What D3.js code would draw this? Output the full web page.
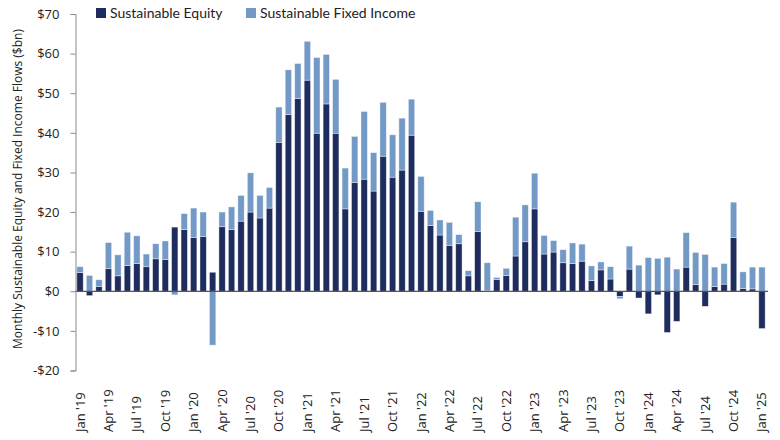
<!DOCTYPE html>
<html>
<head>
<meta charset="utf-8">
<script src="https://cdn.jsdelivr.net/npm/d3@7"></script>
<style>
  body { margin: 0; background: #fff; }
  .axis text { font-family: "Open Sans", sans-serif; fill: #222; }
  .legend text { font-family: Lato, sans-serif; fill: #222; }
</style>
</head>
<body>
<div class="flows_chart"></div>
<script>
// monthly flows, $bn, Jan '19 .. Jan '25
const months = d3.range(73).map((i) => new Date(2019, i, 1));
const equity = [
  4.7, -1.1, 1.2, 5.7, 3.9, 6.5, 7.0, 6.2, 8.2, 8.0, 16.2, 15.6,
  13.6, 13.8, 4.8, 16.3, 15.6, 17.7, 20.0, 18.5, 21.0, 37.6, 44.6, 48.7,
  53.3, 39.9, 47.3, 39.9, 20.8, 27.5, 28.3, 25.3, 34.1, 28.8, 30.6, 39.4,
  20.2, 16.6, 14.2, 11.6, 12.0, 3.9, 15.1, 0.2, 3.0, 4.0, 8.9, 12.5,
  20.8, 9.4, 9.9, 7.2, 7.0, 7.6, 2.7, 5.4, 3.1, -1.3, 5.6, -1.7,
  -5.7, -0.9, -10.4, -7.6, 6.1, 1.7, -3.8, 1.2, 1.8, 13.6, 0.7, 0.6,
  -9.4
];
const fixedIncome = [
  1.5, 4.0, 1.7, 6.6, 5.3, 8.4, 7.0, 3.2, 3.8, 4.7, -0.9, 4.0,
  7.4, 6.2, -13.6, 3.7, 5.7, 6.5, 9.9, 5.7, 5.2, 8.9, 11.3, 8.8,
  9.8, 19.1, 12.5, 13.6, 10.3, 11.6, 17.1, 9.7, 13.6, 10.7, 13.1, 9.1,
  8.8, 3.8, 3.8, 5.8, 2.3, 1.3, 7.5, 7.0, 0.5, 1.8, 9.8, 9.3,
  9.0, 4.7, 2.9, 3.3, 5.2, 4.3, 3.7, 2.0, 3.1, -0.6, 5.8, 6.6,
  8.5, 8.3, 8.6, 5.6, 8.7, 8.1, 9.3, 4.9, 5.2, 8.9, 4.2, 5.5,
  6.1
];
const seriesNames = ["Sustainable Equity", "Sustainable Fixed Income"];
const colors = ["#1f2d5e", "#7399c7"];
const yTicks = [-20, -10, 0, 10, 20, 30, 40, 50, 60, 70];

const W = 780, H = 440;
const svg = d3.select(".flows_chart").append("svg")
  .attr("width", W).attr("height", H);

const rows = months.map((m, i) => ({ month: m, eq: equity[i], fi: fixedIncome[i] }));

const x = d3.scaleBand()
  .domain(months)
  .range([75.3, 766.7])
  .paddingInner(0.33)
  .paddingOuter(0.165);

const y = d3.scaleLinear().domain([-20, 70]).range([370.5, 14]);

const stack = d3.stack().keys(["eq", "fi"]).offset(d3.stackOffsetDiverging);
const layers = stack(rows);

// bars
svg.append("g")
  .selectAll("g")
  .data(layers)
  .join("g")
  .attr("fill", (d, i) => colors[i])
  .selectAll("rect")
  .data((d) => d)
  .join("rect")
  .attr("x", (d) => x(d.data.month))
  .attr("width", x.bandwidth())
  .attr("y", (d) => y(Math.max(d[0], d[1])))
  .attr("height", (d) => Math.abs(y(d[0]) - y(d[1])))
  .attr("stroke", "#ffffff")
  .attr("stroke-opacity", 0.55)
  .attr("stroke-width", 0.7);

// zero line
svg.append("line")
  .attr("x1", 75.5).attr("x2", 768)
  .attr("y1", y(0)).attr("y2", y(0))
  .attr("stroke", "#555").attr("stroke-width", 1.2);

// y axis
const yAxis = svg.append("g")
  .attr("class", "axis")
  .attr("transform", "translate(75.5,0)")
  .call(d3.axisLeft(y).tickValues(yTicks).tickSize(5).tickPadding(11)
    .tickFormat((d) => (d < 0 ? "-$" : "$") + Math.abs(d)));
yAxis.select(".domain").attr("stroke", "#8a8a8a");
yAxis.selectAll(".tick line").attr("stroke", "#8a8a8a");
yAxis.selectAll("text").attr("font-size", 13);

// x labels, every quarter
const fmt = d3.timeFormat("%b '%y");
const xAxis = svg.append("g")
  .attr("class", "axis")
  .selectAll("text")
  .data(months.filter((m, i) => i % 3 === 0))
  .join("text")
  .attr("transform", (d) => `translate(${x(d) + x.bandwidth() / 2 + 4.5},432) rotate(-90)`)
  .attr("font-size", 13)
  .text(fmt);

// y title
svg.append("text")
  .attr("class", "axis")
  .attr("transform", "translate(22,189) rotate(-90)")
  .attr("text-anchor", "middle")
  .attr("font-family", "Open Sans, sans-serif")
  .attr("font-size", 12)
  .attr("fill", "#222")
  .text("Monthly Sustainable Equity and Fixed Income Flows ($bn)");

// legend
const legend = svg.append("g").attr("class", "legend");
const legendX = [96, 246];
seriesNames.forEach((name, i) => {
  legend.append("rect")
    .attr("x", legendX[i]).attr("y", 8)
    .attr("width", 10).attr("height", 10)
    .attr("fill", colors[i]);
  legend.append("text")
    .attr("x", legendX[i] + 14).attr("y", 18)
    .attr("font-size", 14)
    .text(name);
});
</script>
</body>
</html>
